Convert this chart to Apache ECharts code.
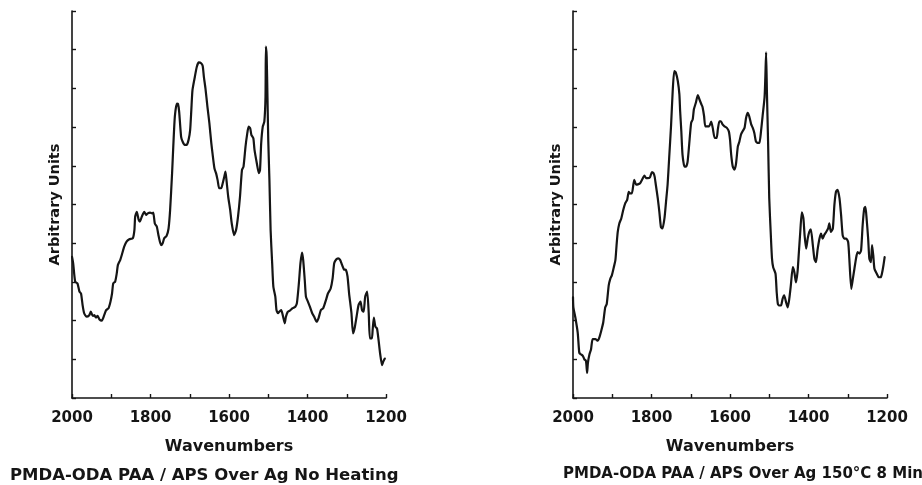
<!DOCTYPE html>
<html>
<head>
<meta charset="utf-8">
<script src="https://cdn.jsdelivr.net/npm/echarts@6/dist/echarts.min.js"></script>
<style>
  html, body { margin: 0; padding: 0; background: #fff; }
  #chart { width: 922px; height: 485px; }
</style>
</head>
<body>
<div id="chart"></div>
<script>
// ---- Data (wavenumber in cm^-1, intensity in arbitrary units) ----
const leftWavenumbers = [2000,1997,1992,1986,1981,1977,1973,1969,1963,1956,1952,1947,1943,1939,1935,1930,1924,1918,1913,1907,
  1902,1898,1895,1890,1886,1883,1877,1873,1867,1861,1854,1845,1841,1839,1835,1830,1827,1822,1816,1811,
  1807,1801,1796,1793,1789,1784,1779,1773,1769,1765,1759,1754,1750,1745,1742,1738,1733,1730,1727,1722,
  1718,1713,1708,1703,1699,1696,1693,1687,1682,1677,1671,1667,1664,1660,1655,1650,1645,1642,1637,1633,
  1629,1625,1620,1616,1612,1609,1606,1602,1597,1593,1587,1582,1577,1572,1567,1563,1558,1554,1550,1546,
  1543,1538,1535,1529,1524,1521,1518,1514,1510,1507,1506,1504,1502,1500,1497,1494,1490,1487,1482,1479,
  1475,1472,1467,1463,1458,1455,1450,1445,1438,1431,1427,1422,1418,1414,1411,1407,1404,1399,1394,1388,
  1383,1377,1372,1366,1360,1353,1348,1341,1336,1332,1327,1322,1317,1312,1307,1302,1298,1294,1288,1284,
  1280,1275,1270,1265,1261,1257,1253,1248,1244,1241,1236,1234,1231,1227,1223,1219,1215,1210,1207,1203];
const leftValues = [3.65,3.48,3.01,2.96,2.75,2.70,2.40,2.19,2.10,2.14,2.23,2.12,2.14,2.08,2.12,2.03,2.00,2.14,2.27,2.32,
  2.49,2.70,2.96,3.01,3.22,3.44,3.57,3.70,3.91,4.04,4.10,4.13,4.34,4.69,4.81,4.60,4.56,4.69,4.81,4.73,
  4.77,4.79,4.77,4.79,4.51,4.43,4.17,3.95,4.00,4.13,4.19,4.38,4.86,5.81,6.49,7.27,7.61,7.60,7.40,6.75,
  6.62,6.54,6.54,6.67,6.92,7.44,7.96,8.30,8.56,8.67,8.65,8.58,8.30,8.00,7.53,7.10,6.58,6.32,5.93,5.81,
  5.63,5.42,5.42,5.55,5.72,5.85,5.59,5.20,4.86,4.51,4.21,4.34,4.69,5.20,5.89,5.98,6.49,6.80,7.01,6.97,
  6.80,6.71,6.41,6.06,5.81,5.89,6.58,7.01,7.14,7.79,9.08,8.82,7.79,6.67,5.63,4.34,3.48,2.88,2.62,2.27,
  2.19,2.23,2.27,2.14,1.93,2.10,2.23,2.26,2.32,2.36,2.45,2.96,3.48,3.76,3.57,3.05,2.62,2.49,2.36,2.19,
  2.10,1.97,2.06,2.27,2.32,2.53,2.70,2.83,3.09,3.48,3.58,3.61,3.57,3.44,3.32,3.31,3.14,2.70,2.19,1.67,
  1.80,2.10,2.40,2.49,2.27,2.23,2.62,2.75,2.19,1.54,1.54,1.76,2.08,1.84,1.80,1.50,1.15,0.85,0.94,1.02];

const rightWavenumbers = [2000,1999,1994,1988,1984,1980,1975,1971,1967,1964,1962,1958,1954,1950,1943,1937,1933,1928,1923,1918,
  1914,1909,1905,1901,1896,1892,1889,1886,1882,1877,1872,1867,1862,1858,1855,1850,1844,1839,1835,1829,
  1824,1818,1814,1810,1804,1799,1795,1792,1789,1784,1780,1776,1772,1767,1763,1759,1755,1750,1746,1742,
  1738,1733,1729,1727,1724,1721,1716,1712,1708,1704,1699,1695,1692,1687,1682,1678,1673,1670,1666,1663,
  1658,1653,1648,1644,1639,1634,1631,1627,1623,1619,1614,1608,1603,1600,1597,1593,1589,1585,1580,1576,
  1572,1568,1563,1559,1555,1551,1546,1542,1538,1534,1529,1525,1521,1517,1512,1510,1508,1506,1503,1500,
  1496,1493,1490,1484,1481,1478,1474,1470,1466,1462,1457,1453,1449,1445,1440,1436,1432,1428,1425,1421,
  1417,1413,1410,1406,1402,1398,1394,1389,1385,1381,1377,1372,1368,1364,1360,1355,1350,1347,1343,1338,
  1334,1330,1326,1321,1317,1313,1309,1304,1299,1296,1291,1287,1283,1279,1275,1270,1266,1262,1258,1255,
  1252,1248,1245,1241,1238,1235,1232,1226,1221,1216,1213,1209,1206];
const rightValues = [2.60,2.34,2.08,1.69,1.17,1.13,1.09,1.00,0.96,0.65,0.91,1.13,1.26,1.52,1.52,1.48,1.56,1.74,1.95,2.34,
  2.43,2.91,3.08,3.17,3.38,3.56,3.95,4.29,4.51,4.64,4.86,5.03,5.12,5.33,5.29,5.29,5.64,5.51,5.52,5.55,
  5.64,5.75,5.68,5.68,5.70,5.84,5.81,5.72,5.51,5.16,4.81,4.42,4.38,4.64,5.07,5.51,6.20,7.07,7.93,8.45,
  8.41,8.19,7.85,7.41,6.89,6.29,5.98,5.98,6.11,6.55,7.11,7.20,7.46,7.63,7.83,7.72,7.59,7.52,7.28,7.02,
  7.02,7.02,7.14,6.98,6.72,6.72,6.94,7.15,7.15,7.07,7.02,6.98,6.89,6.68,6.29,5.98,5.90,6.03,6.50,6.63,
  6.81,6.89,6.98,7.24,7.37,7.28,7.07,6.98,6.85,6.63,6.59,6.59,6.89,7.28,7.76,8.28,8.93,7.93,6.63,5.16,
  4.21,3.60,3.38,3.21,2.73,2.43,2.39,2.39,2.56,2.65,2.47,2.34,2.56,2.91,3.38,3.25,2.99,3.25,3.69,4.29,
  4.80,4.64,4.21,3.86,4.12,4.29,4.36,3.95,3.60,3.51,3.82,4.12,4.25,4.12,4.21,4.29,4.38,4.51,4.29,4.38,
  4.99,5.33,5.38,5.16,4.73,4.21,4.12,4.12,4.03,3.60,2.82,3.08,3.34,3.60,3.77,3.73,3.82,4.47,4.90,4.94,
  4.64,4.12,3.60,3.51,3.95,3.69,3.34,3.21,3.12,3.12,3.21,3.43,3.64];

const xTickLabels = [2000, 1800, 1600, 1400, 1200];
const xAxisTitle = 'Wavenumbers';
const yAxisTitle = 'Arbitrary Units';
const leftCaption = 'PMDA-ODA PAA / APS Over Ag No Heating';
const rightCaption = 'PMDA-ODA PAA / APS Over Ag 150°C 8 Min';

// ---- Chart ----
const INK = '#151515';
const FONT = 'DejaVu Sans';

function zip(xs, ys) { return xs.map((x, i) => [x, ys[i]]); }

function makeXAxis(gridIndex) {
  return {
    gridIndex, type: 'value', min: 1200, max: 2000, interval: 100, inverse: true,
    axisLine: { show: true, onZero: false, lineStyle: { color: INK, width: 1.6 } },
    axisTick: { show: true, inside: true, length: 4, lineStyle: { color: INK, width: 1.4 } },
    splitLine: { show: false },
    axisLabel: {
      color: INK, fontFamily: FONT, fontWeight: 'bold', fontSize: 15, margin: 13,
      showMinLabel: true, showMaxLabel: true,
      formatter: v => (xTickLabels.indexOf(v) >= 0 ? String(v) : '')
    },
    name: xAxisTitle, nameLocation: 'middle', nameGap: 41,
    nameTextStyle: { color: INK, fontFamily: FONT, fontWeight: 'bold', fontSize: 16 }
  };
}
function makeYAxis(gridIndex) {
  return {
    gridIndex, type: 'value', min: 0, max: 10, interval: 1,
    axisLine: { show: true, onZero: false, lineStyle: { color: INK, width: 1.6 } },
    axisTick: { show: true, inside: true, length: 4, lineStyle: { color: INK, width: 1.4 } },
    splitLine: { show: false },
    axisLabel: { show: false },
    name: yAxisTitle, nameLocation: 'middle', nameRotate: 90, nameGap: 9,
    nameTextStyle: { color: INK, fontFamily: FONT, fontWeight: 'bold', fontSize: 14.5 }
  };
}
function makeSeries(i, data) {
  return {
    type: 'line', xAxisIndex: i, yAxisIndex: i, data, showSymbol: false, symbol: 'none',
    smooth: 0.2, animation: false,
    lineStyle: { color: INK, width: 2.2, join: 'round', cap: 'round' }
  };
}

const chart = echarts.init(document.getElementById('chart'), null, { renderer: 'canvas' });
chart.setOption({
  backgroundColor: '#ffffff',
  animation: false,
  title: [
    { text: leftCaption, left: 10, top: 467, padding: 0,
      textStyle: { color: INK, fontFamily: FONT, fontWeight: 'bold', fontSize: 16.5 } },
    { text: rightCaption, left: 563, top: 467, padding: 0,
      textStyle: { color: INK, fontFamily: FONT, fontWeight: 'bold', fontSize: 15 } }
  ],
  grid: [
    { left: 72, top: 11, width: 314, height: 387 },
    { left: 573, top: 11, width: 314, height: 387 }
  ],
  xAxis: [makeXAxis(0), makeXAxis(1)],
  yAxis: [makeYAxis(0), makeYAxis(1)],
  series: [makeSeries(0, zip(leftWavenumbers, leftValues)), makeSeries(1, zip(rightWavenumbers, rightValues))]
});
</script>
</body>
</html>
